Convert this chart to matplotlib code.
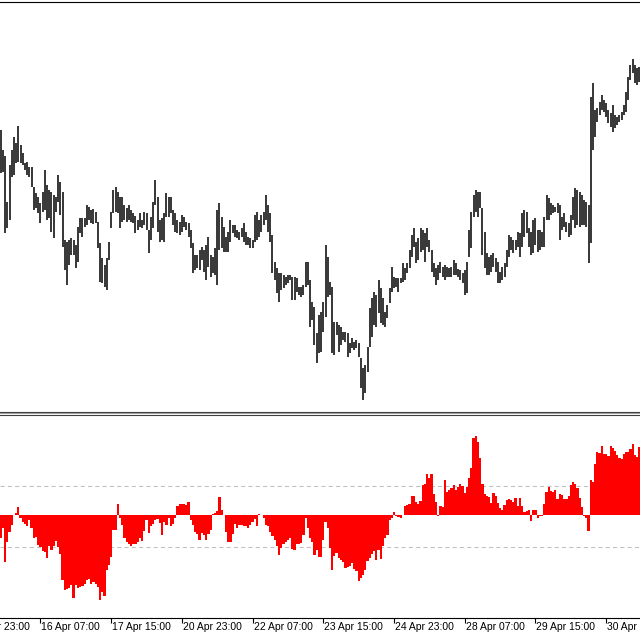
import numpy as np
import matplotlib
matplotlib.use("Agg")
import matplotlib.pyplot as plt
from matplotlib.lines import Line2D

# ---- price bars (H1) (arbitrary price units) ----
bar_high = [
    270, 250, 244, 198, 235, 250, 263, 257, 274, 255,
    247, 237, 238, 233, 233, 213, 207, 203, 197, 208,
    230, 215, 210, 208, 205, 203, 225, 218, 208, 160,
    158, 160, 162, 160, 155, 173, 182, 182, 182, 195,
    193, 190, 191, 188, 178, 157, 142, 135, 142, 158,
    188, 210, 213, 208, 203, 203, 195, 192, 195, 190,
    187, 184, 180, 187, 180, 188, 187, 170, 183, 198,
    220, 203,
    180, 182, 187, 207, 203, 203, 190, 187, 180, 178,
    185, 183, 178, 177, 170, 157, 145, 145, 150, 153,
    150, 155, 163, 145, 143, 152, 190, 197, 183, 173,
    163, 168, 180, 175, 175, 170, 168, 172, 177, 168,
    163, 162, 160, 185, 188, 180, 185, 188, 205, 195,
    187, 165, 138, 132, 127, 127, 125, 123, 125, 125,
    123, 123, 122, 113, 113, 115, 138, 138, 120, 98,
    93, 67, 85,
    88, 98, 155, 143, 118, 113, 78, 78, 75, 73,
    68, 68, 67, 57, 62, 58, 60, 57, 42, 32,
    35, 53, 92, 102, 108, 105, 120, 112, 102, 88,
    95, 112, 133, 123, 122, 122, 122, 137, 132, 137,
    150, 165, 172, 158, 162, 172, 170, 167, 172, 160,
    150, 137, 132, 135, 138, 133, 135, 133, 132, 133,
    140, 137, 131, 130, 127, 130, 138, 170, 188, 205,
    210, 208,
    208, 192, 168, 147, 143, 145, 147, 142, 138, 128,
    133, 137, 150, 165, 163, 160, 160, 168, 167, 187,
    190, 188, 172, 168, 180, 182, 170, 170, 168, 183,
    205, 202, 197, 195, 193, 197, 195, 183, 187, 178,
    177, 185, 203, 212, 210, 208, 205, 200, 198, 195,
    303, 317, 290, 292, 298, 305, 300, 297, 290, 287,
    295, 285, 283, 285, 288, 295, 308, 323, 335, 341,
    335, 332, 333,
]
bar_low = [
    227, 228, 167, 172, 180, 223, 225, 237, 238, 237,
    235, 230, 225, 223, 213, 190, 192, 187, 177, 188,
    190, 180, 182, 168, 162, 188, 198, 185, 153, 130,
    115, 135, 145, 145, 132, 138, 167, 163, 173, 175,
    180, 177, 176, 177, 152, 118, 117, 113, 110, 140,
    172, 187, 188, 187, 172, 178, 180, 178, 180, 178,
    177, 167, 170, 173, 172, 175, 170, 147, 160, 172,
    195, 168,
    158, 160, 158, 183, 183, 187, 175, 168, 167, 165,
    168, 173, 170, 163, 152, 127, 130, 132, 130, 140,
    128, 120, 133, 123, 127, 125, 115, 150, 152, 148,
    148, 148, 158, 167, 163, 162, 160, 163, 158, 155,
    155, 152, 152, 158, 160, 163, 168, 175, 180, 168,
    158, 127, 120, 107, 98, 110, 112, 115, 117, 120,
    100, 100, 108, 105, 103, 105, 113, 115, 73, 80,
    55, 37, 47,
    48, 68, 83, 103, 105, 47, 45, 65, 48, 55,
    60, 58, 43, 47, 52, 50, 52, 43, 12, 0,
    7, 28, 53, 63, 75, 73, 87, 77, 75, 73,
    82, 97, 108, 112, 113, 108, 117, 118, 120, 127,
    132, 143, 153, 137, 140, 148, 150, 138, 153, 148,
    128, 123, 115, 120, 127, 123, 120, 123, 123, 123,
    125, 125, 123, 120, 117, 105, 107, 143, 152, 183,
    188, 183,
    192, 145, 132, 125, 125, 128, 133, 128, 117, 117,
    120, 123, 133, 143, 150, 147, 150, 153, 143, 153,
    163, 167, 153, 145, 147, 155, 148, 150, 153, 153,
    180, 180, 185, 187, 188, 187, 160, 170, 173, 168,
    163, 165, 180, 172, 175, 173, 175, 175, 173, 137,
    157, 250, 263, 278, 285, 290, 288, 283, 277, 273,
    268, 272, 275, 278, 280, 285, 288, 300, 320, 327,
    317, 315, 318,
]

# ---- oscillator histogram (same bars) ----
osc = [
    -69, -39, -139, -79, -51, -29, 0, 6, 25,
    -7, -19, -25, -31, -15, -39, -69, -65, -89, -95, -107,
    -109, -127, -91, -105, -91, -77, -95, -115, -195, -223, -221,
    -219, -209, -249, -209, -219, -215, -213, -205, -193, -191, -205,
    -199, -205, -215, -253, -229, -241, -165, -149, -125, -45,
    -45, 35, -9, -29, -69, -81, -85, -91, -85,
    -85, -81, -69, -77, -47, -15, -53, -31, -25,
    -15, -11, -23, -59, -19, -29, -9, -31, -25, -7, 27,
    35, 33, 35, 31, 39, -13, -29, -51, -55,
    -73, -53, -59, -73, -55, -45, 3,
    7, 13, 55, 15, 2, -49, -79, -81, -57, -25, -39, -29,
    -29, -33, -31, -37, -29,
    -19, -11, -33, 5,
    1, -9, -29, -33, -49, -61, -75, -91, -119, -97,
    -85, -79, -75, -69, -101, -103, -85, -87,
    -83, -59, -9, -39, -69, -79, -119, -105, -125,
    -125, -74, -19, -39, -99, -165, -121, -113, -129, -135, -139,
    -159, -155,
    -153, -143, -161, -167, -197, -187, -179, -165, -137, -127, -115,
    -107, -133, -103, -131, -93, -69, -59, -15, -7, 9, -1,
    -5, -7, 1, 27, 31,
    33, 59, 57, 41, 35, 43, 91, 93, 125, 111, 123,
    65, 41, -1, 27, 25, 107, 71,
    75, 81, 91, 75, 85, 93, 89,
    67, 85, 113, 143, 231, 239, 219, 173, 93, 65, 57, 55, 37,
    67, 57, 37,
    21, 15, 31, 47, 49, 45, 41, 51, 29, 53, 29, 11, 13, 15, -17, 15, 17, -7, -3,
    -1, 35, 71, 85, 73, 71,
    77, 49, 63, 61, 49, 49,
    57, 91, 101, 95, 83, 51, 25, -3, -7, -47, 107, 101, 153, 189, 187, 207, 185,
    183, 177, 209, 201, 193, 181, 171,
    169, 185, 189, 189, 199, 215, 181, 175, 205,
]
osc_levels = [87, -95]

tick_bars = [-14, 18, 50, 82, 114, 146, 178, 210, 242, 274]
tick_labels = ["14 Apr 23:00", "16 Apr 07:00", "17 Apr 15:00", "20 Apr 23:00",
               "22 Apr 07:00", "23 Apr 15:00", "24 Apr 23:00", "28 Apr 07:00",
               "29 Apr 15:00", "30 Apr 23:00"]

H = 640.0
def fy(px):
    return 1 - px / H

fig = plt.figure(figsize=(6.4, 6.4), dpi=100)
ax1 = fig.add_axes([0, fy(412), 1, fy(1.5) - fy(412)])
ax2 = fig.add_axes([0, fy(617.7), 1, fy(414.5) - fy(617.7)])

xlim = (-0.3, 289.3)
x = np.arange(len(bar_high))
ax1.vlines(x, bar_low, bar_high, color="black", lw=1.1)
ax1.set_xlim(*xlim)
ax1.set_ylim(-12, 398.5)

xo = np.arange(len(osc))
ax2.stairs(osc, np.append(xo - 0.5, xo[-1] + 0.5), fill=True, color="#ff0000",
           baseline=0, zorder=2)
for lv in osc_levels:
    ax2.axhline(lv, color="#c0c0c0", lw=0.75, ls=(0, (4, 3)), zorder=1)
ax2.set_xlim(*xlim)
ax2.set_ylim(-307, 302)

for ax in (ax1, ax2):
    ax.spines["left"].set_visible(False)
    ax.spines["right"].set_visible(False)
    ax.set_yticks([])
ax1.set_xticks([])
ax1.spines["top"].set_color("black")
ax1.spines["top"].set_linewidth(0.8)
ax1.spines["bottom"].set_color("#404040")
ax1.spines["bottom"].set_linewidth(0.8)
ax2.spines["top"].set_color("#404040")
ax2.spines["top"].set_linewidth(0.8)
ax2.spines["bottom"].set_color("black")
ax2.spines["bottom"].set_linewidth(0.8)

in_range = [b for b in tick_bars if xlim[0] <= b <= xlim[1]]
ax2.set_xticks(in_range)
ax2.set_xticklabels([])
ax2.tick_params(axis="x", direction="out", length=3.8, width=0.8, color="black")

for b, lab in zip(tick_bars, tick_labels):
    ax2.annotate(lab, xy=(b, 0), xycoords=("data", "axes fraction"),
                 xytext=(1, -4), textcoords="offset pixels",
                 ha="left", va="top", fontsize=7.5, family="Liberation Sans",
                 color="black", annotation_clip=False)

fig.add_artist(Line2D([0, 1], [fy(413.3), fy(413.3)], transform=fig.transFigure,
                      color="#a0a0a0", lw=0.75))

fig.savefig("out.png", dpi=100)
